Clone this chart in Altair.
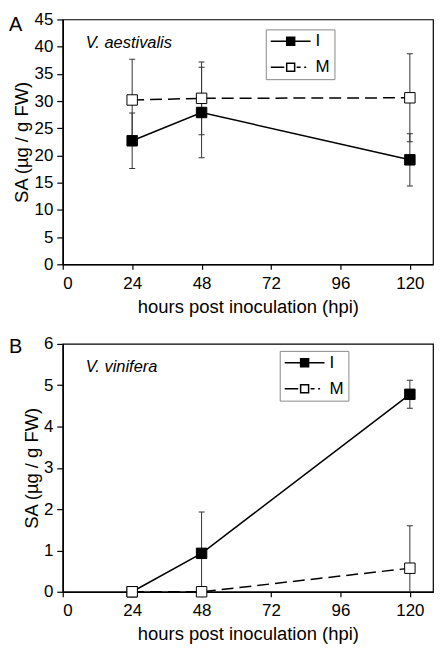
import altair as alt
import pandas as pd

FONT = "Liberation Sans"

# ---- data ----
hpi = [24, 48, 120]
series = ["I", "M"]

a_I = [22.7, 27.9, 19.2]
a_I_err = [5.1, 8.3, 4.8]
a_M = [30.2, 30.5, 30.6]
a_M_err = [7.5, 6.7, 8.1]

b_I = [0.0, 0.93, 4.78]
b_I_err = [0.0, 1.0, 0.34]
b_M = [0.0, 0.0, 0.57]
b_M_err = [0.0, 0.0, 1.03]

x_ticks = [0, 24, 48, 72, 96, 120]
a_y_ticks = [0, 5, 10, 15, 20, 25, 30, 35, 40, 45]
b_y_ticks = [0, 1, 2, 3, 4, 5, 6]

panel_letters = ["A", "B"]
species = ["V. aestivalis", "V. vinifera"]

x_title = "hours post inoculation (hpi)"
y_title = "SA (µg / g FW)"

# legend symbols (line + square marker), unit box [-1, 1]
PATH_I = "M-1,0H-0.2M-0.2,-0.2H0.2V0.2H-0.2ZM0.2,0H1"
PATH_M = "M-1,0H-0.32M-0.2,-0.2H0.2V0.2H-0.2ZM0.3,0H0.5M0.68,0H0.78"


def make_df(vi, ei, vm, em):
    rows = []
    for s, vals, errs in (("I", vi, ei), ("M", vm, em)):
        for h, v, e in zip(hpi, vals, errs):
            rows.append({"hpi": h, "value": v, "lo": v - e, "hi": v + e, "series": s})
    return pd.DataFrame(rows)


def panel(df, ymax, yticks, letter, sp, letter_y, sp_y, legx, legy, height):
    xs = alt.Scale(domain=[0, 128], nice=False, zero=True)
    ys = alt.Scale(domain=[0, ymax], nice=False, zero=True)
    xax = alt.Axis(values=x_ticks, title=x_title)
    yax = alt.Axis(values=yticks, title=y_title)

    def X():
        return alt.X("hpi:Q", scale=xs, axis=xax, title=x_title)

    def Y(field):
        return alt.Y(f"{field}:Q", scale=ys, axis=yax, title=y_title)

    base = alt.Chart(df)
    err = base.mark_rule(color="#333333", strokeWidth=1, clip=True).encode(
        x=X(), y=Y("lo"), y2="hi:Q")
    cap_hi = base.mark_tick(orient="horizontal", size=6, thickness=1,
                            color="#333333", clip=True, opacity=1).encode(x=X(), y=Y("hi"))
    cap_lo = base.mark_tick(orient="horizontal", size=6, thickness=1,
                            color="#333333", clip=True, opacity=1).encode(x=X(), y=Y("lo"))

    line_i = base.transform_filter("datum.series == 'I'").mark_line(
        color="black", strokeWidth=1.5).encode(x=X(), y=Y("value"))
    line_m = base.transform_filter("datum.series == 'M'").mark_line(
        color="black", strokeWidth=1.5, strokeDash=[12, 6]).encode(x=X(), y=Y("value"))
    pts_i = base.transform_filter("datum.series == 'I'").mark_point(
        shape="square", filled=True, size=110, fill="black", stroke="black",
        strokeWidth=1, opacity=1).encode(x=X(), y=Y("value"))
    pts_m = base.transform_filter("datum.series == 'M'").mark_point(
        shape="square", filled=True, size=110, fill="white", stroke="black",
        strokeWidth=1, opacity=1).encode(x=X(), y=Y("value"))

    leg = alt.Legend(orient="none", legendX=legx, legendY=legy, title=None,
                     symbolSize=1600, clipHeight=16, rowPadding=9, padding=4,
                     strokeColor="#888888", fillColor="white",
                     labelFont=FONT, labelFontSize=17, labelColor="black",
                     labelOffset=4, symbolStrokeColor="black",
                     symbolStrokeWidth=1.5, symbolOpacity=1)
    ghost = base.transform_filter("false").mark_point(filled=True, opacity=1).encode(
        x=X(), y=Y("value"),
        shape=alt.Shape("series:N", scale=alt.Scale(domain=series, range=[PATH_I, PATH_M]), legend=leg),
        fill=alt.Fill("series:N", scale=alt.Scale(domain=series, range=["black", "white"]), legend=leg),
        stroke=alt.Stroke("series:N", scale=alt.Scale(domain=series, range=["black", "black"]), legend=leg),
    )

    ann = alt.Chart(pd.DataFrame({"letter": [letter], "species": [sp]}))
    t_letter = ann.mark_text(font=FONT, fontSize=20, align="left", baseline="alphabetic",
                             color="black").encode(x=alt.value(-54), y=alt.value(letter_y), text="letter:N")
    t_species = ann.mark_text(font=FONT, fontSize=16.5, fontStyle="italic", align="left",
                              baseline="alphabetic", color="black").encode(
        x=alt.value(23), y=alt.value(sp_y), text="species:N")

    return alt.layer(err, cap_hi, cap_lo, line_i, pts_i, line_m, pts_m, ghost,
                     t_letter, t_species).properties(width=372, height=height)


df_a = make_df(a_I, a_I_err, a_M, a_M_err)
df_b = make_df(b_I, b_I_err, b_M, b_M_err)

chart_a = panel(df_a, 45, a_y_ticks, panel_letters[0], species[0], 12, 29, 204, 10, 246)
chart_b = panel(df_b, 6, b_y_ticks, panel_letters[1], species[1], 9, 28, 218, 7, 249)

chart = alt.vconcat(chart_a, chart_b, spacing=17).resolve_scale(
    shape="independent", fill="independent", stroke="independent",
    x="independent", y="independent"
).resolve_legend(shape="independent", fill="independent", stroke="independent").properties(
    padding=0
).configure_view(
    stroke="black", strokeWidth=1.2
).configure_axis(
    grid=False, labelFont=FONT, labelFontSize=17, labelColor="black",
    titleFont=FONT, titleFontSize=18.5, titleFontWeight="normal", titleColor="black",
    domainColor="black", domainWidth=1.5, tickColor="black", tickWidth=1.2,
).configure_axisX(
    tickSize=5, labelPadding=6, titlePadding=6
).configure_axisY(
    tickSize=6, labelPadding=4, titlePadding=2
)

chart.save("out.html", embed_options={"renderer": "svg", "actions": False})
